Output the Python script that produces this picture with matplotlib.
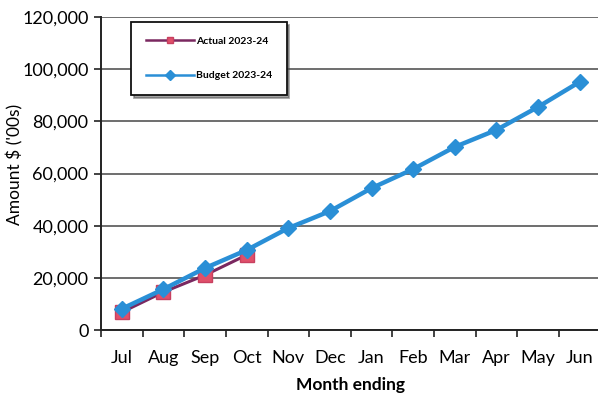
import matplotlib
matplotlib.use("Agg")
import matplotlib.pyplot as plt
from matplotlib.ticker import FuncFormatter, MultipleLocator

months = ["Jul", "Aug", "Sep", "Oct", "Nov", "Dec", "Jan", "Feb", "Mar", "Apr", "May", "Jun"]
actual = [6900, 14600, 21100, 28800]
budget = [8200, 15700, 23800, 30700, 39100, 45600, 54400, 61700, 70200, 76700, 85500, 95100]

plt.rcParams["font.family"] = ["Lato", "DejaVu Sans"]

fig = plt.figure(figsize=(5.98, 3.94), dpi=100)
ax = fig.add_axes([0.169, 0.162, 0.835, 0.795])

x_all = list(range(len(months)))
ax.plot(x_all[:len(actual)], actual, color="#7a2860", lw=2.2, marker="s",
        markersize=10, markerfacecolor="#e0506a", markeredgecolor="#c84060",
        label="Actual 2023-24", zorder=3)
ax.plot(x_all, budget, color="#2a8fd6", lw=3.2, marker="D",
        markersize=8.5, markerfacecolor="#2a8fd6", markeredgecolor="#2a8fd6",
        label="Budget 2023-24", zorder=4)

ax.set_xlim(-0.5, 11.5)
ax.set_ylim(0, 120000)
ax.yaxis.set_major_locator(MultipleLocator(20000))
ax.yaxis.set_major_formatter(FuncFormatter(lambda v, p: f"{int(v):,}"))
ax.set_xticks(x_all)
ax.set_xticklabels(months)
ax.set_xticks([i - 0.5 for i in range(len(months) + 1)], minor=True)
ax.tick_params(axis="x", which="major", length=0, pad=14, labelsize=13)
ax.tick_params(axis="x", which="minor", length=5, width=1.2, color="#222222")
ax.tick_params(axis="y", length=5, width=1.2, color="#222222", labelsize=13, pad=4)
ax.grid(axis="y", color="#555555", lw=1.2)
ax.set_axisbelow(True)
for side in ("top", "right"):
    ax.spines[side].set_visible(False)
for side in ("left", "bottom"):
    ax.spines[side].set_linewidth(1.4)
    ax.spines[side].set_color("#222222")

ax.set_ylabel("Amount $ ('00s)", fontsize=12.5)
ax.yaxis.set_label_coords(-0.155, 0.53)
ax.set_xlabel("Month ending", fontsize=12.5, fontweight="bold", labelpad=8)

leg = ax.legend(loc="upper left", bbox_to_anchor=(0.05, 1.0), frameon=True,
                fancybox=False, shadow=True, borderpad=1.4, labelspacing=2.4,
                handlelength=4.6, handletextpad=0.2,
                prop={"weight": "bold", "size": 7.5})
leg.get_frame().set_edgecolor("#111111")
leg.get_frame().set_linewidth(1.3)
for h in leg.get_lines():
    h.set_markersize(5)
    h.set_linewidth(1.8)

fig.savefig("out.png", dpi=100)
